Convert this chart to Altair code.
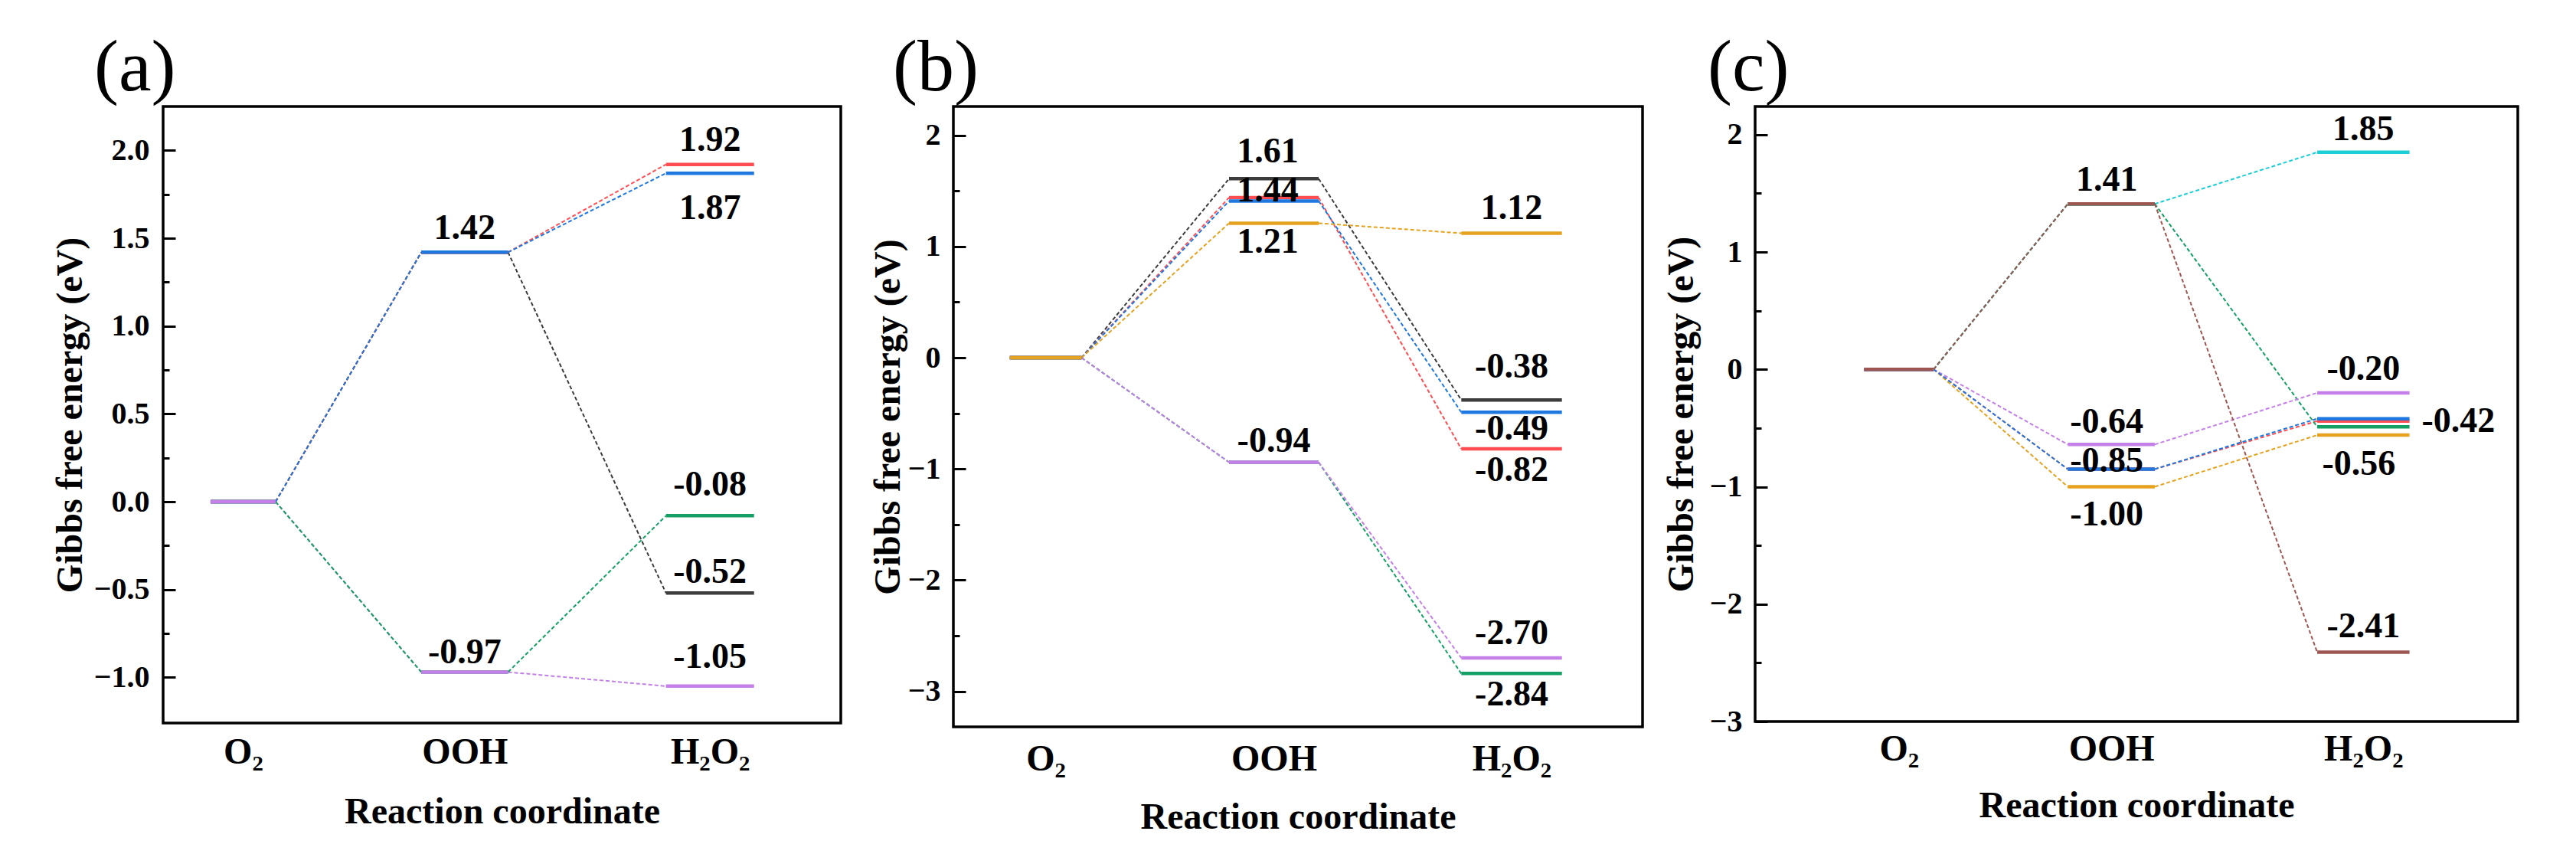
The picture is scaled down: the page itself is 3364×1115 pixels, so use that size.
import altair as alt
import pandas as pd

# ---------------- data ----------------
STAGES = ["O₂", "OOH", "H₂O₂"]

# panel (a)
A_NAMES = ["black", "red", "blue", "green", "violet"]
A_O2 = [0.00, 0.00, 0.00, 0.00, 0.00]
A_OOH = [1.42, 1.42, 1.42, -0.97, -0.97]
A_H2O2 = [-0.52, 1.92, 1.87, -0.08, -1.05]
A_LABEL_STAGE = [1, 1, 2, 2, 2, 2, 2]
A_LABEL_VALUE = [1.42, -0.97, 1.92, 1.87, -0.08, -0.52, -1.05]

# panel (b)
B_NAMES = ["black", "red", "blue", "orange", "violet", "green"]
B_O2 = [0.00, 0.00, 0.00, 0.00, 0.00, 0.00]
B_OOH = [1.61, 1.44, 1.41, 1.21, -0.94, -0.94]
B_H2O2 = [-0.38, -0.82, -0.49, 1.12, -2.70, -2.84]
B_LABEL_STAGE = [1, 1, 1, 1, 2, 2, 2, 2, 2, 2]
B_LABEL_VALUE = [1.61, 1.44, 1.21, -0.94, 1.12, -0.38, -0.49, -0.82, -2.70, -2.84]

# panel (c)
C_NAMES = ["brown", "cyan", "green", "violet", "blue", "red", "orange"]
C_O2 = [0.00, 0.00, 0.00, 0.00, 0.00, 0.00, 0.00]
C_OOH = [1.41, 1.41, 1.41, -0.64, -0.85, -0.85, -1.00]
C_H2O2 = [-2.41, 1.85, -0.49, -0.20, -0.42, -0.44, -0.56]
C_LABEL_STAGE = [1, 1, 1, 1, 2, 2, 2, 2, 2]
C_LABEL_VALUE = [1.41, -0.64, -0.85, -1.00, 1.85, -0.20, -0.42, -0.56, -2.41]

# ---------------- styles / layout ----------------
COLORS = {
    "black": "#3c3c3c",
    "red": "#ff4d52",
    "blue": "#1f78e0",
    "green": "#14a064",
    "violet": "#c47fe8",
    "orange": "#e5a21f",
    "cyan": "#1ccfd6",
    "brown": "#9e5652",
}
FONT = "Liberation Serif"

A_LEVEL_ORDER = ["black", "red", "blue", "green", "violet"]
A_LINK_ORDER = ["black", "red", "violet", "blue", "green"]
B_LEVEL_ORDER = ["black", "red", "blue", "green", "violet", "orange"]
B_LINK_ORDER = ["green", "violet", "black", "red", "blue", "orange"]
C_LEVEL_ORDER = ["cyan", "green", "red", "orange", "violet", "blue", "brown"]
C_LINK_ORDER = ["red", "cyan", "green", "orange", "violet", "blue", "brown"]

A_CENTERS, A_HALF = [0.118, 0.445, 0.807], [0.048, 0.064, 0.065]
B_CENTERS, B_HALF = [0.134, 0.465, 0.810], [0.052, 0.065, 0.073]
C_CENTERS, C_HALF = [0.1885, 0.467, 0.7975], [0.0455, 0.057, 0.0605]

# label baseline offsets in pixels (negative = above the level)
A_LABEL_DY = [-17, -11, -18, 60, -26, -13, -24]
A_LABEL_DX = [0, 0, 0, 0, 0, 0, 0]
B_LABEL_DY = [-21, 5, 39, -14, -18, -29, 36, 42, -18, 42]
B_LABEL_DX = [-8, -8, -8, 0, 0, 0, 0, 0, 0, 0]
C_LABEL_DY = [-17, -15, 3, 50, -16, -17, 17, 52, -20]
C_LABEL_DX = [-6, -6, -6, -6, 0, 0, 124, -6, 0]


def panel(letter, names, o2, ooh, h2o2, lstage, lvalue, level_order, link_order,
          centers, halves, ldy, ldx, ydom, major, minor, fmt, width, height,
          title_x, label_pad, x_label_pad, x_title_pad, letter_dx):
    energies = list(zip(o2, ooh, h2o2))
    lv = []
    for n, e in zip(names, energies):
        for s in range(3):
            lv.append(dict(series=n, x=centers[s] - halves[s], x2=centers[s] + halves[s],
                           y=e[s], order=level_order.index(n)))
    ln = []
    for n, e in zip(names, energies):
        for s in range(2):
            ln.append(dict(series=n, x=centers[s] + halves[s], x2=centers[s + 1] - halves[s + 1],
                           y=e[s], y2=e[s + 1], order=link_order.index(n)))
    ppu = height / (ydom[1] - ydom[0])
    lb = [dict(x=centers[st] + dx / width, y=v - dy / ppu, text=f"{v:.2f}")
          for st, v, dy, dx in zip(lstage, lvalue, ldy, ldx)]
    lv_df = pd.DataFrame(lv).sort_values("order")
    ln_df = pd.DataFrame(ln).sort_values("order")
    lb_df = pd.DataFrame(lb)

    xs = alt.Scale(domain=[0, 1], nice=False)
    ys = alt.Scale(domain=ydom, nice=False, zero=False)
    cs = alt.Scale(domain=list(COLORS.keys()), range=list(COLORS.values()))

    expr = "''"
    for c, s in reversed(list(zip(centers, STAGES))):
        expr = f"abs(datum.value - {c}) < 0.001 ? '{s}' : ({expr})"

    x_axis = alt.Axis(values=centers, labelExpr=expr, ticks=False, domain=False, grid=False,
                      labelFont=FONT, labelFontSize=48, labelFontWeight="bold", labelColor="black",
                      labelPadding=x_label_pad, labelOverlap=False, labelBound=False, labelFlush=False,
                      title="Reaction coordinate", titleFont=FONT, titleFontSize=48,
                      titleFontWeight="bold", titleColor="black", titlePadding=x_title_pad)
    y_axis = alt.Axis(values=major, format=fmt, orient="left", ticks=False, tickSize=0,
                      domain=False, grid=False, labelFont=FONT, labelFontSize=40,
                      labelFontWeight="bold", labelColor="black", labelPadding=label_pad,
                      title="Gibbs free energy (eV)", titleFont=FONT, titleFontSize=48,
                      titleFontWeight="bold", titleColor="black", titleX=title_x,
                      titleAngle=270, titleBaseline="bottom", titleAlign="center")
    major_axis = alt.Axis(values=major, orient="left", ticks=True, tickSize=16, tickWidth=3,
                          tickColor="black", labels=False, domain=False, grid=False,
                          title=None, offset=-16)
    minor_axis = alt.Axis(values=minor, orient="left", ticks=True, tickSize=8, tickWidth=3,
                          tickColor="black", labels=False, domain=False, grid=False,
                          title=None, offset=-8)

    links = alt.Chart(ln_df).mark_rule(strokeWidth=2, strokeDash=[5, 3]).encode(
        x=alt.X("x:Q", scale=xs, axis=x_axis),
        x2="x2:Q",
        y=alt.Y("y:Q", scale=ys, axis=y_axis),
        y2="y2:Q",
        color=alt.Color("series:N", scale=cs, legend=None),
        order="order:Q",
    )
    levels = alt.Chart(lv_df).mark_rule(strokeWidth=4.5).encode(
        x=alt.X("x:Q", scale=xs, axis=None),
        x2="x2:Q",
        y=alt.Y("y:Q", scale=ys, axis=major_axis),
        color=alt.Color("series:N", scale=cs, legend=None),
        order="order:Q",
    )
    labels = alt.Chart(lb_df).mark_text(font=FONT, fontSize=46, fontWeight="bold",
                                        color="black", baseline="alphabetic").encode(
        x=alt.X("x:Q", scale=xs, axis=None),
        y=alt.Y("y:Q", scale=ys, axis=minor_axis),
        text="text:N",
    )
    return alt.layer(links, levels, labels).resolve_axis(x="independent", y="independent").properties(
        width=width, height=height,
        title=alt.TitleParams(text=letter, anchor="start", frame="group", font=FONT, fontSize=96,
                              fontWeight="normal", color="black", dx=letter_dx, offset=1),
    )


pa = panel("(a)", A_NAMES, A_O2, A_OOH, A_H2O2, A_LABEL_STAGE, A_LABEL_VALUE,
           A_LEVEL_ORDER, A_LINK_ORDER, A_CENTERS, A_HALF, A_LABEL_DY, A_LABEL_DX,
           [-1.26, 2.25], [-1.0, -0.5, 0.0, 0.5, 1.0, 1.5, 2.0],
           [-0.75, -0.25, 0.25, 0.75, 1.25, 1.75], ".1f", 885, 805, -97, 18, 14, 30, -90)
pb = panel("(b)", B_NAMES, B_O2, B_OOH, B_H2O2, B_LABEL_STAGE, B_LABEL_VALUE,
           B_LEVEL_ORDER, B_LINK_ORDER, B_CENTERS, B_HALF, B_LABEL_DY, B_LABEL_DX,
           [-3.32, 2.26], [-3, -2, -1, 0, 1, 2],
           [-2.5, -1.5, -0.5, 0.5, 1.5], "d", 900, 810, -61, 17, 18, 28, -79)
pc = panel("(c)", C_NAMES, C_O2, C_OOH, C_H2O2, C_LABEL_STAGE, C_LABEL_VALUE,
           C_LEVEL_ORDER, C_LINK_ORDER, C_CENTERS, C_HALF, C_LABEL_DY, C_LABEL_DX,
           [-3.0, 2.24], [-3, -2, -1, 0, 1, 2],
           [-2.5, -1.5, -0.5, 0.5, 1.5], "d", 996, 803, -72, 17, 12, 26, -62)

chart = alt.hconcat(pa, pb, pc, spacing=147, bounds="flush").properties(
    padding={"left": 58, "top": 31, "right": 0, "bottom": 0},
    background="white",
).configure_view(stroke="black", strokeWidth=3.5)

chart.save("out.html", embed_options={"renderer": "svg", "actions": False})
